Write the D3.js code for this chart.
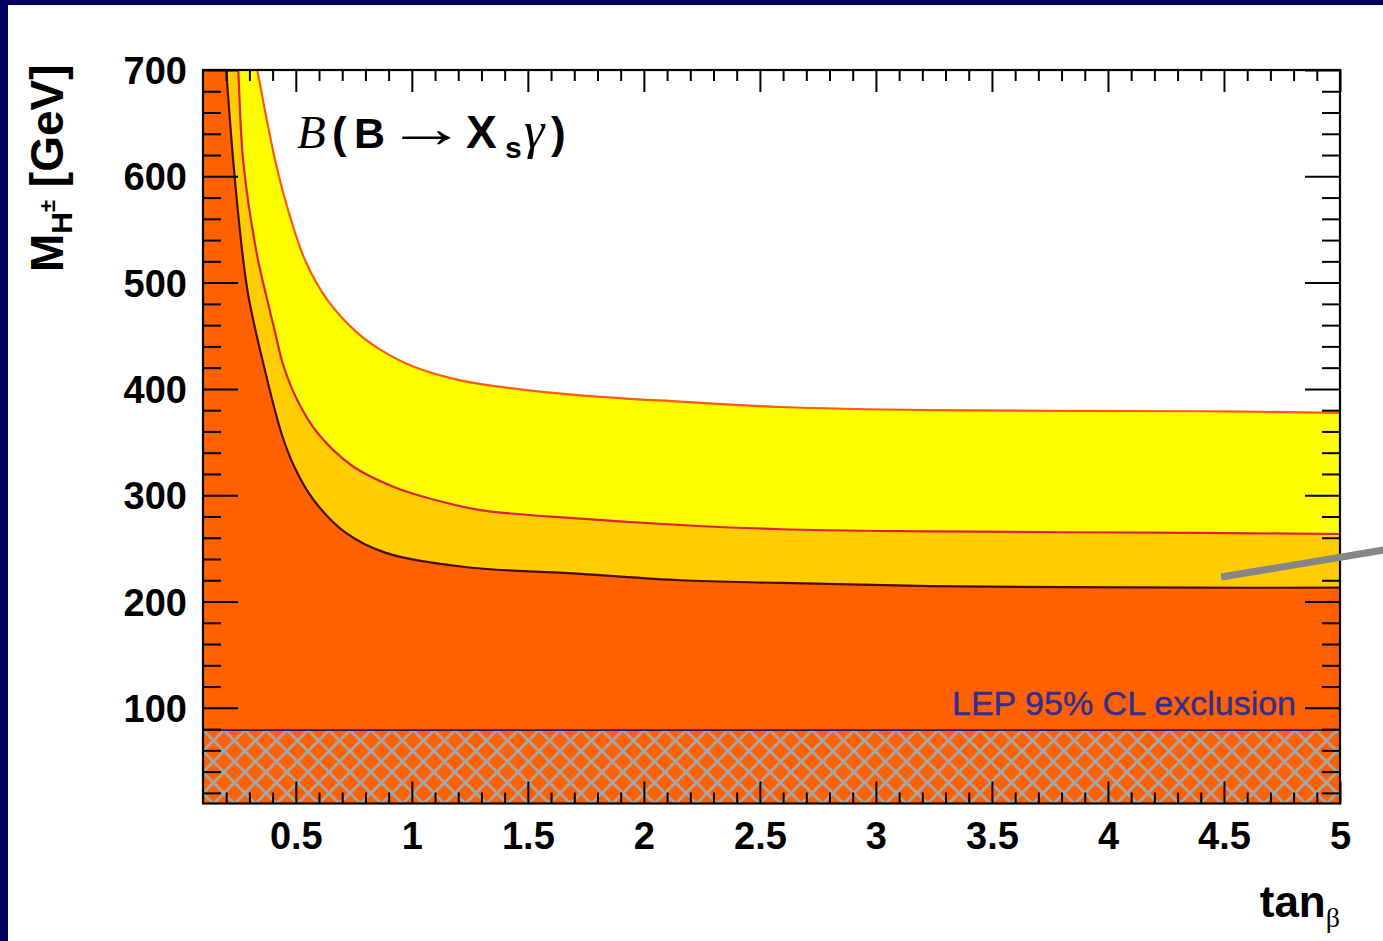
<!DOCTYPE html>
<html>
<head>
<meta charset="utf-8">
<script src="https://cdn.jsdelivr.net/npm/d3@7"></script>
<style>
  html, body { margin: 0; padding: 0; background: #ffffff; overflow: hidden; }
  svg { display: block; }
</style>
</head>
<body>
<svg id="chart" width="1383" height="941"></svg>
<script>
// Charged Higgs mass limits from B(B -> X_s gamma) as a function of tan(beta).
// Each boundary is a list of tan(beta) values and the matching M_H+- in GeV.
const lowerTanB = [0.10, 0.179, 0.200, 0.230, 0.2735, 0.2985, 0.363, 0.437, 0.493, 0.575, 0.713, 0.885, 1.230, 1.726, 2.157, 2.589, 3.236, 4.40, 5.00];
const lowerMass = [1400, 760, 700, 615, 521, 484, 421, 359, 327, 296, 265, 246, 232.5, 226, 220, 217.5, 214.5, 213, 213];

const middleTanB = [0.10, 0.238, 0.252, 0.273, 0.332, 0.380, 0.411, 0.445, 0.505, 0.592, 0.747, 0.920, 1.092, 1.295, 1.726, 2.157, 2.589, 3.236, 4.40, 5.00];
const middleMass = [1400, 760, 700, 615, 527, 481, 453, 423, 390, 359, 327, 308, 296, 286, 278, 272, 268, 266, 264.5, 263.5];

const upperTanB = [0.10, 0.285, 0.334, 0.411, 0.467, 0.540, 0.635, 0.764, 0.864, 1.006, 1.209, 1.381, 1.726, 2.157, 2.589, 3.236, 4.40, 5.00];
const upperMass = [1400, 760, 700, 615, 568, 521, 484, 453, 437, 421, 408, 402, 394, 388, 383, 380, 379, 377.5];

// LEP direct search limit on M_H+- (GeV)
const lepLimit = 79;

// Axis ticks and labels
const xMajorTicks = [0.5, 1, 1.5, 2, 2.5, 3, 3.5, 4, 4.5, 5];
const xTickLabels = ["0.5", "1", "1.5", "2", "2.5", "3", "3.5", "4", "4.5", "5"];
const yMajorTicks = [100, 200, 300, 400, 500, 600, 700];
const yTickLabels = ["100", "200", "300", "400", "500", "600", "700"];

// Pointer annotation (tan(beta), M_H+-) end points
const pointerTanB = [4.488, 5.30];
const pointerMass = [223, 252.5];

const xDomain = [0.1, 5.0];
const yDomain = [10, 700];

const svg = d3.select("#chart");
const W = 1383, H = 941;

// page background with the dark slide border on the left and top
svg.append("rect").attr("width", W).attr("height", H).attr("fill", "#000062");
svg.append("rect").attr("x", 8).attr("y", 5).attr("width", W - 8).attr("height", H - 5).attr("fill", "#ffffff");

const plot = { left: 203, right: 1340, top: 70, bottom: 803.5 };
const x = d3.scaleLinear().domain(xDomain).range([plot.left, plot.right]);
const y = d3.scaleLinear().domain(yDomain).range([plot.bottom, plot.top]);

const defs = svg.append("defs");
defs.append("clipPath").attr("id", "plotClip")
  .append("rect")
  .attr("x", plot.left).attr("y", plot.top)
  .attr("width", plot.right - plot.left).attr("height", plot.bottom - plot.top);

// cross hatching for the LEP excluded region
const hatch = defs.append("pattern")
  .attr("id", "lepHatch")
  .attr("patternUnits", "userSpaceOnUse")
  .attr("x", plot.left).attr("y", y(lepLimit))
  .attr("width", 21).attr("height", 21);
hatch.append("rect").attr("width", 21).attr("height", 21).attr("fill", "#ff6000");
hatch.append("path")
  .attr("d", "M-3,-3L24,24M24,-3L-3,24M-3,18L3,24M18,-3L24,3M-3,3L3,-3M18,24L24,18")
  .attr("stroke", "#a6a6a6").attr("stroke-width", 2.8).attr("fill", "none");

const toPoints = (tb, m) => tb.map((t, i) => [t, m[i]]);
const lower = toPoints(lowerTanB, lowerMass);
const middle = toPoints(middleTanB, middleMass);
const upper = toPoints(upperTanB, upperMass);

const smooth = d3.curveCatmullRom.alpha(0.5);
const area = d3.area()
  .x(d => x(d[0]))
  .y0(y(yDomain[0]))
  .y1(d => y(d[1]))
  .curve(smooth);
const line = d3.line()
  .x(d => x(d[0]))
  .y(d => y(d[1]))
  .curve(smooth);

const g = svg.append("g").attr("clip-path", "url(#plotClip)");
g.append("rect")
  .attr("x", plot.left).attr("y", plot.top)
  .attr("width", plot.right - plot.left).attr("height", plot.bottom - plot.top)
  .attr("fill", "#ffffff");

// bands: yellow (upper), light orange (middle), orange (lower)
g.append("path").datum(upper).attr("d", area).attr("fill", "#ffff00");
g.append("path").datum(middle).attr("d", area).attr("fill", "#ffcc00");
g.append("path").datum(lower).attr("d", area).attr("fill", "#ff6000");

g.append("path").datum(upper).attr("d", line)
  .attr("fill", "none").attr("stroke", "#ff5a10").attr("stroke-width", 2.2);
g.append("path").datum(middle).attr("d", line)
  .attr("fill", "none").attr("stroke", "#e0203a").attr("stroke-width", 2.2);
g.append("path").datum(lower).attr("d", line)
  .attr("fill", "none").attr("stroke", "#4a0c00").attr("stroke-width", 2.2);

// LEP excluded region
g.append("rect")
  .attr("x", x(xDomain[0])).attr("y", y(lepLimit))
  .attr("width", x(xDomain[1]) - x(xDomain[0]))
  .attr("height", y(yDomain[0]) - y(lepLimit))
  .attr("fill", "url(#lepHatch)");
g.append("line")
  .attr("x1", x(xDomain[0])).attr("x2", x(xDomain[1]))
  .attr("y1", y(lepLimit)).attr("y2", y(lepLimit))
  .attr("stroke", "#1c1c80").attr("stroke-width", 1.6);

// ticks on all four sides, pointing into the frame
const xMinorTicks = d3.range(2, 51).map(v => v / 10).filter(v => !xMajorTicks.includes(v));
const yMinorTicks = d3.range(1, 36).map(v => v * 20).filter(v => !yMajorTicks.includes(v));

function styleAxis(sel) {
  sel.select(".domain").remove();
  sel.selectAll(".tick line").attr("stroke", "#000").attr("stroke-width", 2);
}

svg.append("g").attr("transform", `translate(0,${plot.bottom})`)
  .call(d3.axisBottom(x).tickValues(xMinorTicks).tickSize(-11).tickFormat(""))
  .call(styleAxis);
svg.append("g").attr("transform", `translate(0,${plot.top})`)
  .call(d3.axisTop(x).tickValues(xMinorTicks).tickSize(-11).tickFormat(""))
  .call(styleAxis);
svg.append("g").attr("transform", `translate(0,${plot.top})`)
  .call(d3.axisTop(x).tickValues(xMajorTicks).tickSize(-22).tickFormat(""))
  .call(styleAxis);
const xAxis = svg.append("g").attr("transform", `translate(0,${plot.bottom})`)
  .call(d3.axisBottom(x).tickValues(xMajorTicks).tickSize(-22).tickPadding(19)
    .tickFormat((d, i) => xTickLabels[i]))
  .call(styleAxis);
xAxis.selectAll(".tick text")
  .attr("font-family", "'Liberation Sans', Arial, sans-serif")
  .attr("font-weight", "bold").attr("font-size", 38).attr("fill", "#000");

svg.append("g").attr("transform", `translate(${plot.left},0)`)
  .call(d3.axisLeft(y).tickValues(yMinorTicks).tickSize(-18).tickFormat(""))
  .call(styleAxis);
svg.append("g").attr("transform", `translate(${plot.right},0)`)
  .call(d3.axisRight(y).tickValues(yMinorTicks).tickSize(-18).tickFormat(""))
  .call(styleAxis);
svg.append("g").attr("transform", `translate(${plot.right},0)`)
  .call(d3.axisRight(y).tickValues(yMajorTicks).tickSize(-35).tickFormat(""))
  .call(styleAxis);
const yAxis = svg.append("g").attr("transform", `translate(${plot.left},0)`)
  .call(d3.axisLeft(y).tickValues(yMajorTicks).tickSize(-35).tickPadding(16)
    .tickFormat((d, i) => yTickLabels[i]))
  .call(styleAxis);
yAxis.selectAll(".tick text")
  .attr("font-family", "'Liberation Sans', Arial, sans-serif")
  .attr("font-weight", "bold").attr("font-size", 38).attr("fill", "#000")
  .attr("dy", "0.36em");

// frame
svg.append("rect")
  .attr("x", plot.left).attr("y", plot.top)
  .attr("width", plot.right - plot.left).attr("height", plot.bottom - plot.top)
  .attr("fill", "none").attr("stroke", "#000").attr("stroke-width", 2.2);

// LEP label
svg.append("text")
  .attr("x", 1296).attr("y", 715)
  .attr("text-anchor", "end")
  .attr("font-family", "'Liberation Sans', Arial, sans-serif")
  .attr("font-size", 34).attr("fill", "#2e2e92")
  .attr("stroke", "#2e2e92").attr("stroke-width", 0.4)
  .text("LEP 95% CL exclusion");

// process label
const sans = "'Liberation Sans', Arial, sans-serif";
const serif = "'Liberation Serif', 'Times New Roman', serif";
const title = svg.append("text").attr("y", 148).attr("fill", "#000");
title.append("tspan").attr("x", 297).attr("font-family", serif).attr("font-style", "italic")
  .attr("font-size", 47).text("B");
title.append("tspan").attr("x", 332).attr("font-family", sans).attr("font-weight", "bold")
  .attr("font-size", 44).text("(");
title.append("tspan").attr("x", 354).attr("font-family", sans).attr("font-weight", "bold")
  .attr("font-size", 43).text("B");
title.append("tspan").attr("x", 466).attr("font-family", sans).attr("font-weight", "bold")
  .attr("font-size", 46).text("X");
title.append("tspan").attr("x", 505).attr("dy", 10).attr("font-family", sans).attr("font-weight", "bold")
  .attr("font-size", 30).text("s");
title.append("tspan").attr("x", 524).attr("dy", -10).attr("font-family", serif).attr("font-style", "italic")
  .attr("font-size", 52).text("\u03b3");
title.append("tspan").attr("x", 551).attr("font-family", sans).attr("font-weight", "bold")
  .attr("font-size", 44).text(")");
// the long thin arrow of the decay, stretched horizontally
svg.append("text")
  .attr("transform", "translate(386,147) scale(1.45,1)")
  .attr("font-family", serif).attr("font-size", 56).attr("fill", "#000")
  .text("\u2192");

// y axis title
const yTitle = svg.append("text")
  .attr("transform", "translate(63,272) rotate(-90)")
  .attr("font-family", sans).attr("font-weight", "bold").attr("fill", "#000");
yTitle.append("tspan").attr("font-size", 46).text("M");
yTitle.append("tspan").attr("font-size", 30).attr("dy", 9).text("H");
yTitle.append("tspan").attr("font-size", 22).attr("dy", -17).text("\u00b1");
yTitle.append("tspan").attr("font-size", 46).attr("dy", 8).text(" [GeV]");

// x axis title
const xTitle = svg.append("text")
  .attr("x", 1340).attr("y", 917).attr("text-anchor", "end")
  .attr("font-family", sans).attr("font-weight", "bold").attr("fill", "#000");
xTitle.append("tspan").attr("font-size", 44).text("tan");
xTitle.append("tspan").attr("font-size", 28).attr("font-weight", "normal")
  .attr("font-family", serif).attr("dy", 10).text("\u03b2");

// grey pointer annotation
svg.append("line")
  .attr("x1", x(pointerTanB[0])).attr("y1", y(pointerMass[0]))
  .attr("x2", x(pointerTanB[1])).attr("y2", y(pointerMass[1]))
  .attr("stroke", "#868686").attr("stroke-width", 7);
</script>
</body>
</html>
